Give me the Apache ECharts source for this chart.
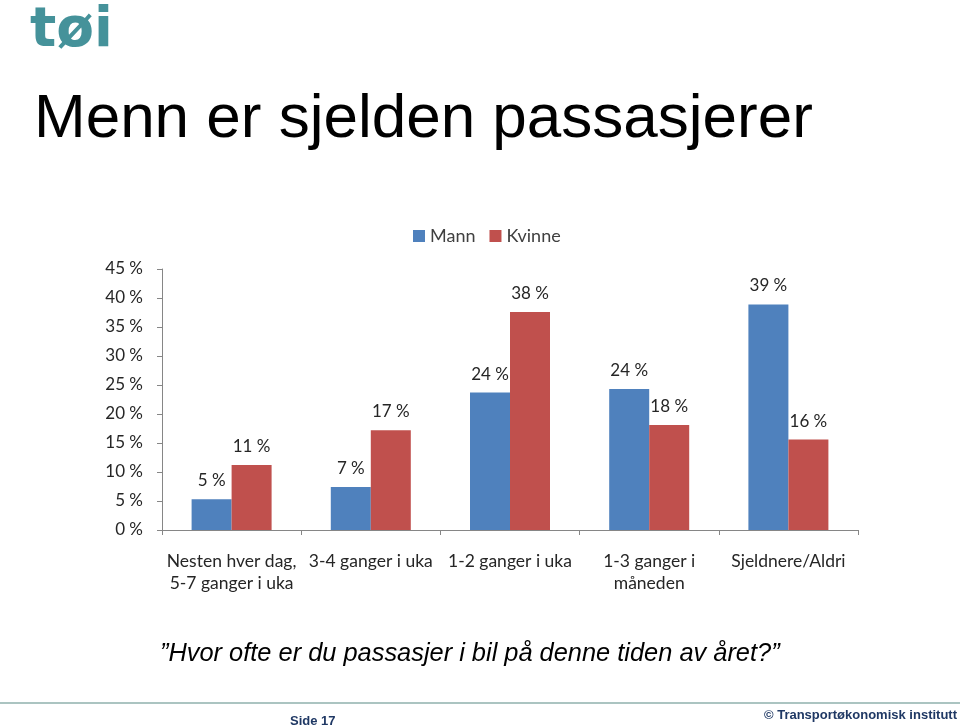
<!DOCTYPE html>
<html>
<head>
<meta charset="utf-8">
<script src="https://cdn.jsdelivr.net/npm/echarts@6/dist/echarts.min.js"></script>
<style>
html,body{margin:0;padding:0;background:#fff;}
#chart{width:960px;height:727px;}
</style>
</head>
<body>
<div id="chart"></div>
<script>
const categories = ["Nesten hver dag,\n5-7 ganger i uka", "3-4 ganger i uka", "1-2 ganger i uka", "1-3 ganger i\nmåneden", "Sjeldnere/Aldri"];
const mann = [5.3, 7.4, 23.7, 24.3, 38.9];
const kvinne = [11.2, 17.2, 37.6, 18.1, 15.6];
const seriesNames = ["Mann", "Kvinne"];
const yTicks = [0, 5, 10, 15, 20, 25, 30, 35, 40, 45];

const chart = echarts.init(document.getElementById('chart'), null, {renderer: 'canvas'});
const labelFont = 'Lato';
const txtColor = '#262626';

const barLabel = {
  show: true,
  position: 'top',
  distance: 10,
  fontFamily: labelFont,
  fontSize: 17,
  color: txtColor,
  formatter: p => Math.round(p.value) + ' %'
};

chart.setOption({
  animation: false,
  backgroundColor: '#ffffff',
  legend: {
    top: 222,
    left: 408,
    itemWidth: 12,
    itemHeight: 12,
    itemGap: 14,
    icon: 'rect',
    textStyle: {fontFamily: labelFont, fontSize: 18, color: '#404040'},
    data: seriesNames
  },
  grid: {left: 162, right: 102, top: 269, bottom: 197, containLabel: false},
  xAxis: {
    type: 'category',
    data: categories,
    axisLine: {lineStyle: {color: '#868686', width: 1}},
    axisTick: {show: true, alignWithLabel: false, length: 5, lineStyle: {color: '#868686'}},
    axisLabel: {fontFamily: labelFont, fontSize: 17.5, color: txtColor, margin: 20, lineHeight: 22, interval: 0}
  },
  yAxis: {
    type: 'value',
    min: yTicks[0],
    max: yTicks[yTicks.length - 1],
    interval: 5,
    splitLine: {show: false},
    axisLine: {show: true, lineStyle: {color: '#868686', width: 1}},
    axisTick: {show: true, length: 5, lineStyle: {color: '#868686'}},
    axisLabel: {fontFamily: labelFont, fontSize: 17, color: txtColor, margin: 19, formatter: v => v + ' %'}
  },
  series: [
    {name: seriesNames[0], type: 'bar', data: mann, barWidth: 40, barGap: '0%', itemStyle: {color: '#4f81bd'}, label: barLabel},
    {name: seriesNames[1], type: 'bar', data: kvinne, barWidth: 40, barGap: '0%', itemStyle: {color: '#c0504d'}, label: barLabel}
  ],
  graphic: [
    {type: 'text', left: 30, top: 4, style: {text: 'tøi', font: 'bold 55px "DejaVu Sans"', fill: '#45929a'}},
    {type: 'text', left: 34, top: 89, style: {text: 'Menn er sjelden passasjerer', font: '62px "Liberation Sans"', fill: '#000'}},
    {type: 'text', left: 160, top: 641, style: {text: '”Hvor ofte er du passasjer i bil på denne tiden av året?”', font: 'italic 25.4px "Liberation Sans"', fill: '#000'}},
    {type: 'line', shape: {x1: 0, y1: 703, x2: 960, y2: 703}, style: {stroke: '#8fb0ad', lineWidth: 1.5}},
    {type: 'text', left: 290, top: 715, style: {text: 'Side 17', font: 'bold 13px "Liberation Sans"', fill: '#1f3864'}},
    {type: 'text', right: 3, top: 709, style: {text: '© Transportøkonomisk institutt', font: 'bold 13px "Liberation Sans"', fill: '#1f3864'}}
  ]
});
</script>
</body>
</html>
